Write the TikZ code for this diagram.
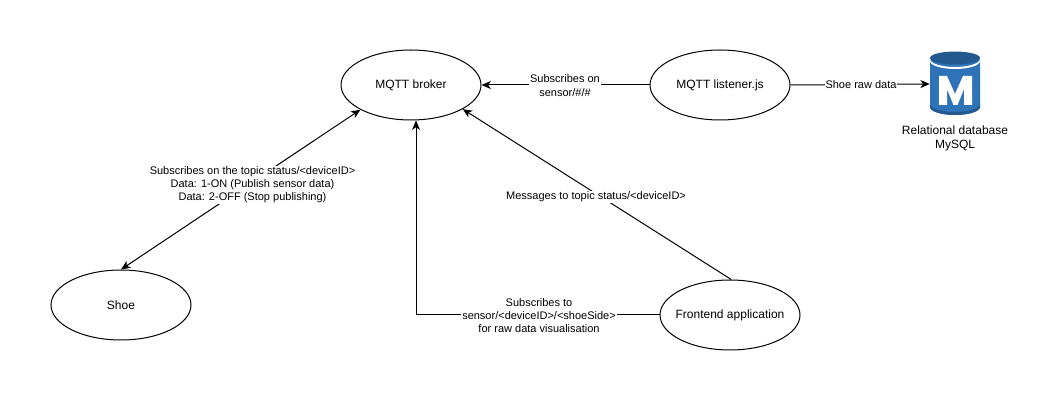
\documentclass[tikz,border=0pt]{standalone}
\usepackage{fontspec}
\setmainfont{Liberation Sans}
\usetikzlibrary{shapes.geometric,arrows.meta}
\definecolor{dbblue}{HTML}{2E73B8}
\definecolor{dbdark}{HTML}{23598F}
\tikzset{
  x=0.75pt,y=-0.75pt,
  oval/.style={ellipse,draw=black,line width=0.75pt,minimum width=105pt,minimum height=52.5pt,inner sep=-20pt,font=\fontsize{9}{11}\selectfont},
  link/.style={draw=black,line width=0.75pt,-{Stealth[length=7pt,width=6pt,inset=2pt]}},
  tag/.style={fill=white,inner sep=0.6pt,align=center,font=\fontsize{8.25}{9.9}\selectfont},
  plain/.style={inner sep=0pt,align=center,font=\fontsize{9}{10.5}\selectfont},
}
\begin{document}
\begin{tikzpicture}
\useasboundingbox (0,0) rectangle (1060,402);
\fill[white] (0,0) rectangle (1060,402);
\node[oval] (broker) at (411,85) {MQTT broker};
\node[oval] (listener) at (720,85) {MQTT listener.js};
\node[oval] (shoe) at (121,305) {Shoe};
\node[oval] (front) at (730,315) {Frontend application};
% database icon
\node[minimum width=37.5pt,minimum height=47.25pt,inner sep=0pt] (db) at (955,84) {};
\fill[dbblue] (930,60) -- (930,107) arc[start angle=180,end angle=0,x radius=25,y radius=8] -- (980,60) -- cycle;
\fill[dbdark] (930,107) arc[start angle=180,end angle=0,x radius=25,y radius=8] -- (980,104) arc[start angle=0,end angle=180,x radius=25,y radius=8] -- cycle;
\fill[white] (930,59) arc[start angle=180,end angle=0,x radius=25,y radius=8] -- (980,61) arc[start angle=0,end angle=180,x radius=25,y radius=8] -- cycle;
\fill[dbdark] (955,58) ellipse[x radius=25,y radius=6.5];
\fill[white] (939,105) -- (939,76) -- (947,76) -- (955,94) -- (963,76) -- (972,76) -- (972,105) -- (964,105) -- (964,89) -- (957.5,105) -- (953.5,105) -- (947,89) -- (947,105) -- cycle;
\node[plain] (dblabel) at (955,138) {Relational database\\MySQL};
% connectors
\draw[link] (listener.west) -- (broker.east);
\draw[link] (listener.east) -- (db.west);
\draw[link,{Stealth[length=7pt,width=6pt,inset=2pt]}-{Stealth[length=7pt,width=6pt,inset=2pt]}] (shoe.north) -- (broker.206);
\draw[link] (front.88) -- (broker.335);
\coordinate (corner) at (416,315);
\draw[link] (front.west) -- (corner) -- (corner |- broker.south);
% labels
\node[tag,font=\fontsize{8.25}{10.3}\selectfont] (l1) at (565,85.5) {Subscribes on\\sensor/\#/\#};
\node[tag] (l2) at (861,85) {Shoe raw data};
\node[tag,font=\fontsize{8.25}{9.7}\selectfont] (l3) at (252.5,185) {Subscribes on the topic status/<deviceID>\\Data: 1-ON (Publish sensor data)\\Data: 2-OFF (Stop publishing)};
\node[tag] (l4) at (596,197) {Messages to topic status/<deviceID>};
\node[tag] (l5) at (539,315.5) {Subscribes to\\sensor/<deviceID>/<shoeSide>\\for raw data visualisation};
\end{tikzpicture}
\end{document}
